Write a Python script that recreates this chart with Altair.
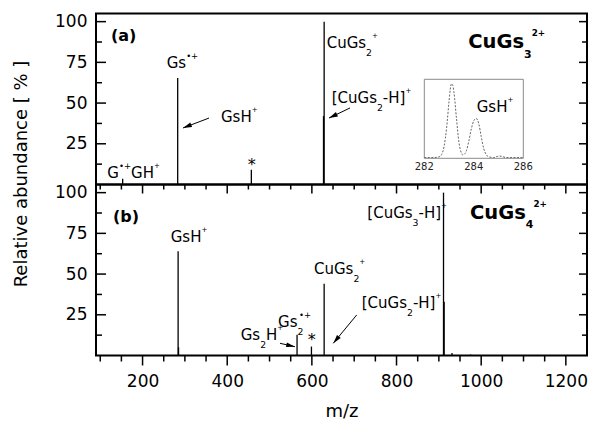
import altair as alt
import pandas as pd

FONT = "DejaVu Sans"

# ---------------- data ----------------
a_mz = [153, 283, 457, 627.5, 629]
a_int = [3.5, 65.4, 9.0, 42.0, 100.0]

b_mz = [284, 285, 565, 599, 629, 911, 912.5, 931, 975]
b_int = [64.0, 5.0, 12.7, 5.5, 44.0, 100.0, 33.0, 1.5, 0.6]

inset_mz = [282.0, 282.4, 282.6, 282.7, 282.8, 282.9, 283.0, 283.05, 283.1, 283.15,
            283.2, 283.3, 283.4, 283.5, 283.55, 283.6, 283.7, 283.8, 283.9, 284.0,
            284.1, 284.2, 284.3, 284.4, 284.5, 284.6, 284.8, 284.95, 285.05, 285.15,
            285.3, 285.6, 286.0]
inset_int = [0.01, 0.01, 0.02, 0.05, 0.16, 0.40, 0.76, 0.92, 0.99, 0.97,
             0.87, 0.53, 0.21, 0.07, 0.045, 0.05, 0.10, 0.23, 0.39, 0.50,
             0.53, 0.46, 0.29, 0.13, 0.05, 0.02, 0.01, 0.025, 0.03, 0.025,
             0.01, 0.01, 0.01]

x_major = [200, 400, 600, 800, 1000, 1200]
x_minor = [100, 150, 250, 300, 350, 450, 500, 550, 650, 700, 750, 850, 900, 950,
           1050, 1100, 1150]
y_major = [25, 50, 75, 100]
y_minor = [12.5, 37.5, 62.5, 87.5]
inset_ticks = [282, 284, 286]

# ---------------- layout ----------------
XD = [90, 1250]
YD = [0, 105]
W, H = 491, 171
LEFT, TOP = 96, 13.5

xs = alt.Scale(domain=XD, nice=False, zero=False)
ys = alt.Scale(domain=YD, nice=False, zero=False)
ixs = alt.Scale(domain=[282, 286], range=[328.3, 427.3], nice=False, zero=False)
iys = alt.Scale(domain=[0, 1.05], range=[144.8, 65.8], nice=False, zero=False)

RW = {' ': .318, '(': .390, ')': .390, '*': .500, '+': .838, '-': .361, '\u2022': .590,
      '[': .390, ']': .390, 'C': .698, 'G': .775, 'H': .752, 'a': .613, 'b': .635,
      's': .521, 'u': .634}
BW = {'(': .458, ')': .458, 'a': .675, 'b': .716, 'C': .733, 'u': .712, 'G': .821,
      's': .595, '+': .838}
for d in '0123456789':
    RW[d] = .636
    BW[d] = .696

STATE = {'xaxis': None}


def twidth(s, size, bold):
    tab = BW if bold else RW
    return sum(tab.get(c, 0.62) for c in s) * size


def X(field='x', scale=xs, axis='auto'):
    if isinstance(axis, str) and axis == 'auto':
        axis = STATE['xaxis']
    if axis is alt.Undefined:
        return alt.X(f'{field}:Q', scale=scale)
    return alt.X(f'{field}:Q', scale=scale, axis=axis)


def Y(field='y', scale=ys, axis=alt.Undefined):
    if axis is alt.Undefined:
        return alt.Y(f'{field}:Q', scale=scale)
    return alt.Y(f'{field}:Q', scale=scale, axis=axis)


def rich(x, y, segs, size=15, bold=False):
    df = pd.DataFrame({'x': [x], 'y': [y]})
    out = []
    cur = 0.0
    sub_start = 0.0
    if bold:
        rsub, rsup, dsub, dsup = 0.56, 0.45, 0.62, -0.47
    else:
        rsub, rsup, dsub, dsup = 0.62, 0.47, 0.66, -0.47
    for text, kind in segs:
        if kind == 'n':
            fs, dy, start = size, 0, cur
        elif kind == 'sub':
            fs, dy, start = size * rsub, size * dsub, cur
            sub_start = cur
        elif kind == 'sup':
            fs, dy, start = size * rsup, size * dsup, cur
        else:  # superscript stacked over preceding subscript
            fs, dy, start = size * rsup, size * dsup, sub_start + 1.5
        if '\u2022' in text:
            fs = fs * 1.2
        out.append(
            alt.Chart(df).mark_text(
                text=text, align='left', baseline='middle', dx=start, dy=dy,
                font=FONT, fontSize=fs, fontWeight='bold' if bold else 'normal',
                color='black'
            ).encode(x=X(), y=Y())
        )
        cur = max(cur, start + twidth(text, fs, bold))
    return out


def star(x, y):
    df = pd.DataFrame({'x': [x], 'y': [y]})
    return [alt.Chart(df).mark_text(text='*', align='center', baseline='middle',
                                    font=FONT, fontSize=16, color='black')
            .encode(x=X(), y=Y())]


HEAD = "M0,0L0.6,2.2L-0.6,2.2Z"


def arrow(x0, y0, x1, y1, ang):
    df = pd.DataFrame({'x': [x0], 'y': [y0], 'x2': [x1], 'y2': [y1]})
    line = alt.Chart(df).mark_rule(color='black', strokeWidth=1).encode(
        x=X(), y=Y(), x2='x2:Q', y2='y2:Q')
    head = alt.Chart(df).mark_point(shape=HEAD, filled=True, size=64, angle=ang,
                                    color='black', opacity=1).encode(
        x=X('x2'), y=Y('y2'))
    return [line, head]


def yticks(vals, length, right=False):
    df = pd.DataFrame({'y': vals})
    if right:
        xe = dict(x=alt.value(W - length), x2=alt.value(W))
    else:
        xe = dict(x=alt.value(0), x2=alt.value(length))
    return alt.Chart(df).mark_rule(color='black', strokeWidth=1.5).encode(y=Y(), **xe)


def xticks(vals, y0, y1):
    df = pd.DataFrame({'x': vals})
    return alt.Chart(df).mark_rule(color='black', strokeWidth=1.5).encode(
        x=X(), y=alt.value(y0), y2=alt.value(y1))


def yaxis(title):
    kw = dict(values=y_major, ticks=False, tickSize=0, domain=False, grid=False,
              labelFont=FONT, labelFontSize=17, labelColor='black', labelPadding=9,
              labelOverlap=False)
    if title:
        kw.update(title=title, titleFont=FONT, titleFontSize=18, titleFontWeight='normal',
                  titleColor='black', titleX=-70, titleY=160, titleBaseline='alphabetic',
                  titleAngle=270, titleAlign='center')
    else:
        kw.update(title=None)
    return alt.Axis(**kw)


xaxis_b = alt.Axis(values=x_major, format='d', ticks=False, tickSize=0, domain=False,
                   grid=False, labelFont=FONT, labelFontSize=17, labelColor='black',
                   labelPadding=18, labelFlush=False, labelOverlap=False,
                   title='m/z', titleFont=FONT, titleFontSize=18, titleFontWeight='normal',
                   titleColor='black', titlePadding=13)

# ---------------- panel (a) ----------------
STATE['xaxis'] = None
peaks_a = alt.Chart(pd.DataFrame({'x': a_mz, 'y': a_int})).mark_rule(
    color='black', strokeWidth=1.3).encode(
    x=X(), y=Y(axis=yaxis('Relative abundance [ % ]')), y2=alt.datum(0))

texts_a = []
texts_a += rich(125.4, 91.2, [('(a)', 'n')], size=16, bold=True)
texts_a += rich(116.7, 6.9, [('G', 'n'), ('\u2022+', 'sup'), ('GH', 'n'), ('+', 'sup')])
texts_a += rich(257.0, 74.4, [('Gs', 'n'), ('\u2022+', 'sup')])
texts_a += rich(385.3, 41.6, [('GsH', 'n'), ('+', 'sup')])
texts_a += star(457.8, 12.2)
texts_a += rich(635.0, 86.7, [('CuGs', 'n'), ('2', 'sub'), ('+', 'sup')])
texts_a += rich(646.8, 52.9, [('[CuGs', 'n'), ('2', 'sub'), ('-H]', 'n'), ('+', 'sup')])
texts_a += rich(969.6, 87.2, [('CuGs', 'n'), ('3', 'sub'), ('2+', 'sup')], size=19.5, bold=True)
texts_a += rich(989.4, 47.8, [('GsH', 'n'), ('+', 'sup')])

arrows_a = arrow(357.0, 40.8, 295.5, 34.7, 249) + arrow(690.1, 47.0, 640.5, 40.8, 244.5)

main_a = alt.layer(
    peaks_a,
    yticks(y_major, 10), yticks(y_minor, 6),
    yticks(y_major, 8, right=True), yticks(y_minor, 5, right=True),
    *texts_a, *arrows_a,
)

inset_box = alt.Chart(pd.DataFrame({'x': [inset_ticks[0]], 'x2': [inset_ticks[-1]],
                                    'y': [0.0], 'y2': [1.05]})).mark_rect(
    fillOpacity=0, stroke='#8a8a8a', strokeWidth=1).encode(
    x=X(scale=ixs, axis=None), x2='x2:Q', y=Y(scale=iys, axis=None), y2='y2:Q')
inset_line = alt.Chart(pd.DataFrame({'x': inset_mz, 'y': inset_int})).mark_line(
    color='#666666', strokeWidth=1, strokeDash=[2, 1.5], interpolate='monotone').encode(
    x=X(scale=ixs, axis=None), y=Y(scale=iys, axis=None))
inset_lbl = alt.Chart(pd.DataFrame({'x': inset_ticks}).assign(y=0.0)).mark_text(
    font=FONT, fontSize=10, color='#222222', baseline='middle', dy=9).encode(
    x=X(scale=ixs, axis=None), y=Y(scale=iys, axis=None), text='x:Q')
inset = alt.layer(inset_box, inset_line, inset_lbl)

top = alt.layer(main_a, inset).resolve_scale(x='independent', y='independent').properties(
    width=W, height=H)

# ---------------- panel (b) ----------------
STATE['xaxis'] = alt.Undefined
peaks_b = alt.Chart(pd.DataFrame({'x': b_mz, 'y': b_int})).mark_rule(
    color='black', strokeWidth=1.3).encode(
    x=X(axis=xaxis_b), y=Y(axis=yaxis(None)), y2=alt.datum(0))

texts_b = []
texts_b += rich(130.2, 85.2, [('(b)', 'n')], size=16, bold=True)
texts_b += rich(266.5, 72.9, [('GsH', 'n'), ('+', 'sup')])
texts_b += rich(431.9, 12.6, [('Gs', 'n'), ('2', 'sub'), ('H', 'n'), ('+', 'sup')])
texts_b += rich(520.0, 20.8, [('Gs', 'n'), ('2', 'sub'), ('\u2022+', 'stk')])
texts_b += star(599.6, 9.3)
texts_b += rich(605.0, 53.1, [('CuGs', 'n'), ('2', 'sub'), ('+', 'sup')])
texts_b += rich(717.7, 32.2, [('[CuGs', 'n'), ('2', 'sub'), ('-H]', 'n'), ('+', 'sup')])
texts_b += rich(731.0, 87.3, [('[CuGs', 'n'), ('3', 'sub'), ('-H]', 'n'), ('+', 'sup')])
texts_b += rich(973.6, 87.5, [('CuGs', 'n'), ('4', 'sub'), ('2+', 'sup')], size=19.5, bold=True)

arrows_b = arrow(524.7, 7.5, 560.1, 5.4, 102.8) + arrow(705.9, 24.9, 650.6, 7.5, 219.6)

bottom = alt.layer(
    peaks_b,
    yticks(y_major, 10), yticks(y_minor, 6),
    yticks(y_major, 8, right=True), yticks(y_minor, 5, right=True),
    xticks(x_major, 0, 9), xticks(x_minor, 0, 5),
    xticks(x_major, H, H + 10), xticks(x_minor, H, H + 6),
    *texts_b, *arrows_b,
).properties(width=W, height=H)

# with autosize "none" the concat reports its width (W) but a height of 0,
# so the bottom padding carries the whole remaining page height
chart = alt.vconcat(top, bottom, spacing=0, bounds='flush').configure_view(
    stroke='black', strokeWidth=2
).properties(
    autosize=alt.AutoSizeParams(type='none'),
    padding={"left": LEFT, "top": TOP, "right": 590 - LEFT - W,
             "bottom": 422 - TOP},
    background='white'
)

chart.save("out.html", embed_options={"renderer": "svg", "actions": False})
